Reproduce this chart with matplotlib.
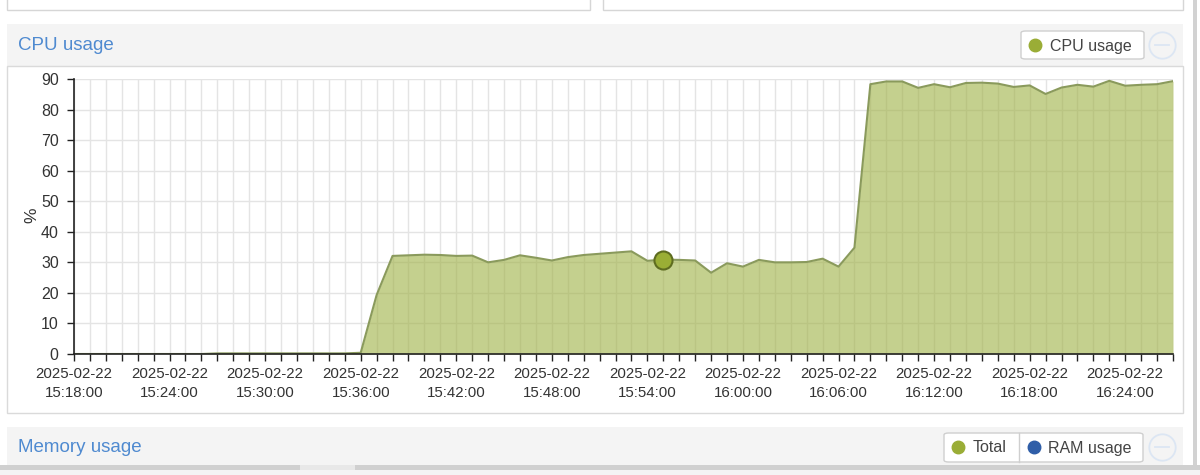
import matplotlib
matplotlib.use("Agg")
import matplotlib.pyplot as plt
import matplotlib.dates as mdates
from matplotlib.patches import Rectangle, FancyBboxPatch
from matplotlib.lines import Line2D
import pandas as pd

# ---------------- data ----------------
start_time = "2025-02-22 15:18:00"
cpu_values = [
    0, 0, 0, 0, 0, 0, 0, 0, 0,
    0.2, 0.2, 0.2, 0.2, 0.2, 0.2, 0.2, 0.2, 0.2,
    0.4, 19.3, 32.1, 32.3, 32.5, 32.4, 32.1, 32.2, 30.0, 30.8,
    32.3, 31.5, 30.6, 31.7, 32.4, 32.8, 33.2, 33.6, 30.5, 30.9,
    30.8, 30.6, 26.6, 29.7, 28.6, 30.8, 30.0, 30.0, 30.1, 31.2,
    28.6, 34.8, 88.3, 89.2, 89.2, 87.1, 88.3, 87.3, 88.7, 88.8,
    88.5, 87.4, 87.9, 85.1, 87.2, 88.1, 87.5, 89.4, 87.8, 88.1,
    88.3, 89.3,
]
times = pd.date_range(start_time, periods=len(cpu_values), freq="1min")
hover_index = 37
y_ticks = [0, 10, 20, 30, 40, 50, 60, 70, 80, 90]
panel_title = "CPU usage"
legend_label = "CPU usage"
memory_title = "Memory usage"
memory_legend = ["Total", "RAM usage"]

# ---------------- style ----------------
W, H = 1200, 475
plt.rcParams["font.family"] = ["Liberation Sans", "DejaVu Sans"]
fig = plt.figure(figsize=(W / 100, H / 100), dpi=100)
fig.patch.set_facecolor("white")

def fr(x0, y0, x1, y1):
    return (x0 / W, 1 - y1 / H, (x1 - x0) / W, (y1 - y0) / H)

def rect(x0, y0, x1, y1, fc, ec="none", lw=1, z=-5):
    l, b, w, h = fr(x0, y0, x1, y1)
    fig.add_artist(Rectangle((l, b), w, h, transform=fig.transFigure,
                             facecolor=fc, edgecolor=ec, linewidth=lw, zorder=z))

def ptxt(x, y, s, **kw):
    fig.text(x / W, 1 - y / H, s, **kw)

# top partial boxes
rect(7, -5, 590, 10, "white", "#d6d6d6")
rect(603, -5, 1183, 10, "white", "#d6d6d6")
# right scroll strip
rect(1193, 0, 1197, 465, "#d2d2d2")
# CPU panel header + body
rect(7, 24, 1183, 66, "#f4f4f4")
rect(7, 66, 1183, 413, "white", "#dadada")
# memory header
rect(7, 427, 1183, 465, "#f4f4f4")
# bottom bar
rect(0, 465, 1200, 470, "#d0d0d0")
rect(300, 465, 355, 470, "#e8e8e8", z=-4)
rect(0, 470, 1200, 476, "#f4f4f4")

title_color = "#4f8ad0"
ptxt(18, 46, panel_title, fontsize=13.5, color=title_color, va="center", ha="left")
ptxt(18, 448, memory_title, fontsize=13.5, color=title_color, va="center", ha="left")

def button(x0, y0, x1, y1):
    l, b, w, h = fr(x0, y0, x1, y1)
    fig.add_artist(FancyBboxPatch((l, b), w, h, boxstyle="round,pad=0,rounding_size=0.004",
                                  transform=fig.transFigure, facecolor="white",
                                  edgecolor="#cfcfcf", linewidth=1, zorder=-3))

def dot(x, y, color):
    fig.add_artist(Line2D([x / W], [1 - y / H], marker="o", markersize=9,
                          markerfacecolor=color, markeredgecolor=color,
                          transform=fig.transFigure, zorder=5))

def minus_icon(x, y):
    fig.add_artist(Line2D([x / W], [1 - y / H], marker="o", markersize=19,
                          markerfacecolor="none", markeredgecolor="#dce6f3",
                          markeredgewidth=1.3, transform=fig.transFigure, zorder=5))
    fig.add_artist(Line2D([(x - 7) / W, (x + 7) / W], [1 - y / H, 1 - y / H],
                          color="#dce6f3", lw=1.3, transform=fig.transFigure, zorder=5))

olive = "#9aad36"
button(1021, 31, 1144, 59)
dot(1035, 45, olive)
ptxt(1050, 46, legend_label, fontsize=11.5, color="#444444", va="center", ha="left")
minus_icon(1162, 45)

button(944, 433, 1143, 462)
fig.add_artist(Line2D([1019 / W, 1019 / W], [1 - 433 / H, 1 - 462 / H], color="#cfcfcf",
                      lw=1, transform=fig.transFigure, zorder=5))
dot(958, 447, olive)
ptxt(973, 448, memory_legend[0], fontsize=11.5, color="#444444", va="center", ha="left")
dot(1034, 447, "#2f5ea8")
ptxt(1048, 448, memory_legend[1], fontsize=11.5, color="#444444", va="center", ha="left")
minus_icon(1162, 447)

# ---------------- chart ----------------
ax = fig.add_axes(fr(74, 79, 1173, 354))
ax.set_facecolor("none")
ax.fill_between(times, cpu_values, 0, color="#9eb143", alpha=0.6, linewidth=0, zorder=3)
ax.plot(times, cpu_values, color="#8a9a5c", lw=1.5, zorder=4)
ax.plot([times[hover_index]], [cpu_values[hover_index]], "o", markersize=13,
        markerfacecolor="#9aae35", markeredgecolor="#5e6c20", markeredgewidth=1.5, zorder=6,
        clip_on=False)

ax.set_xlim(times[0], times[-1])
ax.set_ylim(0, 90)
ax.set_yticks(y_ticks)
ax.xaxis.set_major_locator(mdates.MinuteLocator(byminute=range(0, 60, 6)))
ax.xaxis.set_minor_locator(mdates.MinuteLocator())
ax.xaxis.set_major_formatter(mdates.DateFormatter("%Y-%m-%d\n%H:%M:%S"))

ax.grid(True, which="both", axis="x", color="#e4e4e4", lw=1, zorder=1)
ax.grid(True, which="major", axis="y", color="#e4e4e4", lw=1, zorder=1)
ax.set_axisbelow(True)

for s in ["top", "right"]:
    ax.spines[s].set_visible(False)
for s in ["left", "bottom"]:
    ax.spines[s].set_color("#222222")
    ax.spines[s].set_linewidth(1.2)
    ax.spines[s].set_zorder(5)

ax.tick_params(axis="x", which="both", direction="out", length=5, width=1, color="#222222")
ax.tick_params(axis="x", which="major", labelsize=10.8, labelcolor="#333333", pad=4.5)
ax.tick_params(axis="y", direction="out", length=5, width=1, color="#222222",
               labelsize=11.5, labelcolor="#333333", pad=6)
for lbl in ax.get_xticklabels():
    lbl.set_linespacing(1.4)

ptxt(32, 215, "%", fontsize=12.5, color="#333333", rotation=90, va="center", ha="center")

fig.savefig("out.png", dpi=100, facecolor="white")
